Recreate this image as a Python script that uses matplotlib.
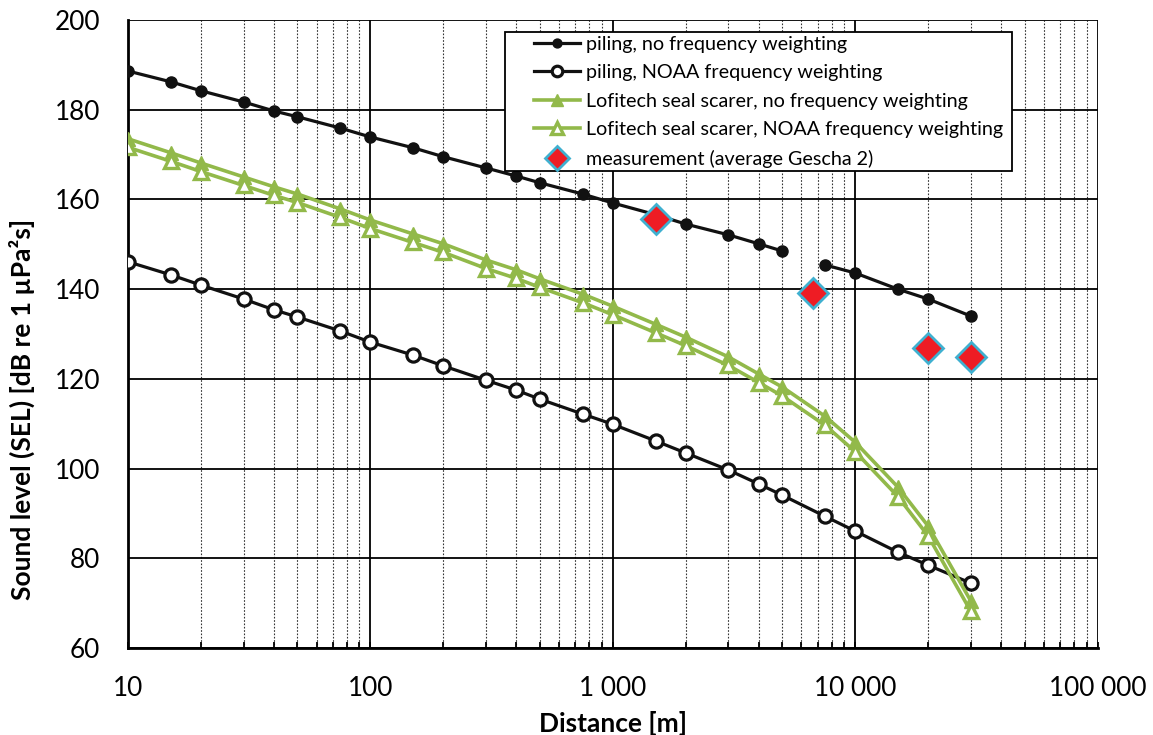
import matplotlib
matplotlib.use("Agg")
import matplotlib.pyplot as plt
from matplotlib.ticker import FixedLocator, NullFormatter, LogLocator
from matplotlib.legend_handler import HandlerLine2D
from matplotlib.lines import Line2D

plt.rcParams['font.family'] = ['Lato', 'DejaVu Sans']

# distances [m]
dist_a = [10, 15, 20, 30, 40, 50, 75, 100, 150, 200, 300, 400, 500, 750,
          1000, 1500, 2000, 3000, 4000, 5000]
dist_b = [7500, 10000, 15000, 20000, 30000]
dist_all = dist_a + dist_b

piling_nw_a = [188.6, 186.2, 184.2, 181.7, 179.7, 178.4, 175.9, 173.9, 171.5, 169.5,
               167.0, 165.2, 163.7, 161.2, 159.2, 156.6, 154.5, 152.1, 150.1, 148.5]
piling_nw_b = [145.4, 143.6, 140.0, 137.8, 134.0]

piling_noaa = [146.1, 143.2, 140.9, 137.8, 135.4, 133.8, 130.7, 128.2, 125.3, 122.9,
               119.7, 117.5, 115.5, 112.2, 109.9, 106.2, 103.5, 99.7, 96.6, 94.1,
               89.4, 86.1, 81.4, 78.5, 74.5]

lofi_nw = [173.5, 170.4, 168.1, 165.0, 162.8, 161.2, 157.9, 155.4, 152.3, 150.1,
           146.5, 144.3, 142.3, 138.9, 136.2, 132.2, 129.3, 124.9, 121.1, 118.2,
           111.7, 105.9, 95.9, 87.2, 70.5]
lofi_noaa = [171.6, 168.5, 166.2, 163.1, 160.9, 159.3, 156.0, 153.5, 150.4, 148.2,
             144.6, 142.4, 140.4, 137.0, 134.3, 130.3, 127.4, 123.0, 119.2, 116.2,
             109.7, 103.8, 93.8, 85.0, 68.2]

meas_x = [1500, 6700, 20000, 30000]
meas_y = [155.6, 139.1, 126.9, 124.9]

xtick_vals = [10, 100, 1000, 10000, 100000]
xtick_labels = ['10', '100', '1 000', '10 000', '100 000']
ytick_vals = [60, 80, 100, 120, 140, 160, 180, 200]

green = '#92b94a'

fig = plt.figure(figsize=(11.53, 7.35), dpi=100)
ax = fig.add_axes([0.111, 0.118, 0.841, 0.855])

ax.set_xscale('log')
ax.set_xlim(10, 100000)
ax.set_ylim(60, 200)

ax.xaxis.set_major_locator(FixedLocator(xtick_vals))
ax.xaxis.set_minor_locator(LogLocator(base=10, subs=range(2, 10), numticks=20))
ax.xaxis.set_minor_formatter(NullFormatter())
ax.set_xticks(xtick_vals)
ax.set_xticklabels(xtick_labels)
ax.set_yticks(ytick_vals)

ax.grid(True, which='major', axis='both', color='black', linewidth=1.3, linestyle='-')
ax.grid(True, which='minor', axis='x', color='#333333', linewidth=0.8, linestyle=(0, (1.5, 1.5)))
ax.set_axisbelow(True)
ax.tick_params(axis='y', which='both', length=0, labelsize=18.8, pad=20)
ax.tick_params(axis='x', which='both', direction='in', length=4, width=1.3,
               labelsize=18.8, pad=20)
for s in ['top', 'right']:
    ax.spines[s].set_visible(False)
for s in ['left', 'bottom']:
    ax.spines[s].set_linewidth(2.0)
    ax.spines[s].set_color('black')

ax.plot(dist_a, piling_nw_a, '-o', color='#111111', lw=2.3, ms=8,
        label='piling, no frequency weighting', zorder=3)
ax.plot(dist_b, piling_nw_b, '-o', color='#111111', lw=2.3, ms=8, zorder=3)
ax.plot(dist_all, piling_noaa, '-o', color='#111111', lw=2.3, ms=9.5, mfc='white',
        mew=2.3, label='piling, NOAA frequency weighting', zorder=3)
ax.plot(dist_all, lofi_nw, '-^', color=green, lw=2.6, ms=10,
        label='Lofitech seal scarer, no frequency weighting', zorder=3)
ax.plot(dist_all, lofi_noaa, '-^', color=green, lw=2.6, ms=10, mfc='white',
        mew=2.4, label='Lofitech seal scarer, NOAA frequency weighting', zorder=3)
ax.plot(meas_x, meas_y, 'D', color='#ee1c24', mec='#3fb0d0', mew=2.0, ms=15,
        linestyle='none', label='measurement (average Gescha 2)', zorder=4)

ax.set_xlabel('Distance [m]', fontsize=19, fontweight='bold', labelpad=7)
ax.set_ylabel('Sound level (SEL) [dB re 1 µPa²s]', fontsize=19, fontweight='bold',
              labelpad=14, y=0.38)

handles, labels = ax.get_legend_handles_labels()
hmap = {Line2D: HandlerLine2D(xpad=1.3)}
leg = ax.legend(handles, labels, loc='upper left',
                bbox_to_anchor=(0.3887, 0.0, 0.5227, 0.981), mode='expand',
                fontsize=14.2, handler_map=hmap,
                frameon=True, fancybox=False, edgecolor='black', framealpha=1,
                borderpad=0.2, labelspacing=0.58, handlelength=3.6, handletextpad=0.3,
                borderaxespad=0, markerscale=0.8)
leg.get_frame().set_linewidth(1.3)

fig.savefig('out.png', dpi=100)
